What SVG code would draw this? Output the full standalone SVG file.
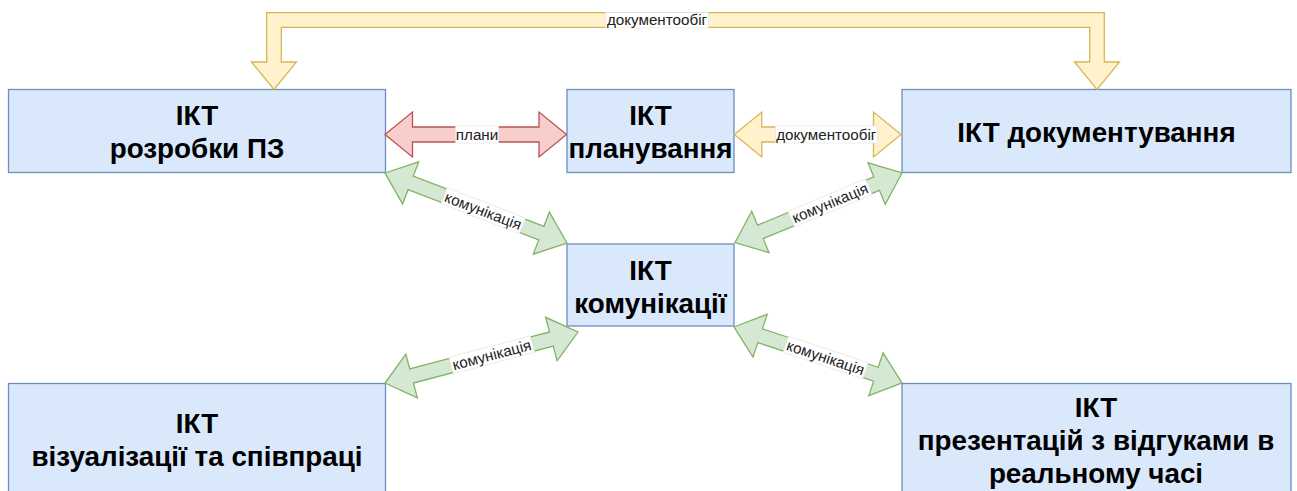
<svg xmlns="http://www.w3.org/2000/svg" width="1297" height="491" viewBox="0 0 1297 491">
<style>
.node{fill:#dae8fc;stroke:#6c8ebf;stroke-width:1.3}
.nt{font-family:"Liberation Sans",Arial,sans-serif;font-weight:bold;font-size:27.8px;fill:#000;text-anchor:middle}
.yel{fill:#fff2cc;stroke:#d6b656;stroke-width:1.3;stroke-linejoin:miter}
.red{fill:#f8cecc;stroke:#b85450;stroke-width:1.3}
.grn{fill:#d5e8d4;stroke:#82b366;stroke-width:1.3}
.lb{fill:#fff;stroke:#e2e2e2;stroke-width:0.6}
.lt{font-family:"Liberation Sans",Arial,sans-serif;font-size:15.2px;fill:#222;text-anchor:middle}
</style>
<rect width="1297" height="491" fill="#fff"/>
<g id="node-rozrobky"><rect class="node" x="8.5" y="89.5" width="377" height="83"/><text class="nt" x="197" y="125">ІКТ</text><text class="nt" x="197" y="158">розробки ПЗ</text></g>
<g id="node-planuvannia"><rect class="node" x="567" y="89.5" width="167" height="83"/><text class="nt" x="650.5" y="125">ІКТ</text><text class="nt" x="650.5" y="158">планування</text></g>
<g id="node-dokumentuvannia"><rect class="node" x="902" y="89.5" width="389" height="83"/><text class="nt" x="1096.5" y="141.5">ІКТ документування</text></g>
<g id="node-komunikatsii"><rect class="node" x="567" y="244" width="167" height="82"/><text class="nt" x="650.5" y="280">ІКТ</text><text class="nt" x="650.5" y="312.5">комунікації</text></g>
<g id="node-vizualizatsii"><rect class="node" x="8.5" y="383.5" width="377" height="120"/><text class="nt" x="197" y="433">ІКТ</text><text class="nt" x="197" y="466">візуалізації та співпраці</text></g>
<g id="node-prezentatsii"><rect class="node" x="902" y="383.5" width="389" height="120"/><text class="nt" x="1096" y="417">ІКТ</text><text class="nt" x="1096" y="450">презентацій з відгуками в</text><text class="nt" x="1096" y="483">реальному часі</text></g>
<g id="connectors">
<g id="e-top"><polygon class="yel" points="274,89.5 251.5,62 266.7,62 266.7,12.7 1104.3,12.7 1104.3,62 1119.5,62 1097,89.5 1074.5,62 1089.7,62 1089.7,27.3 281.3,27.3 281.3,62 296.5,62"/><rect class="lb" x="605.5" y="12.5" width="103" height="15.5"/><text class="lt" x="657" y="25.3">документообіг</text></g>
<g id="e-plany" transform="translate(385,134.5)"><polygon class="red" points="0,0 27.5,-22.5 27.5,-7.5 154,-7.5 154,-22.5 181.5,0 154,22.5 154,7.5 27.5,7.5 27.5,22.5"/><rect class="lb" x="70.5" y="-8.5" width="43" height="17"/><text class="lt" x="92" y="5.3">плани</text></g>
<g id="e-dok" transform="translate(734.3,134.5)"><polygon class="yel" points="0,0 27.5,-22.5 27.5,-7.5 139.2,-7.5 139.2,-22.5 166.7,0 139.2,22.5 139.2,7.5 27.5,7.5 27.5,22.5"/><rect class="lb" x="41" y="-8.5" width="102" height="17"/><text class="lt" x="92" y="5.3">документообіг</text></g>
<g id="e-k1" transform="translate(385,173) rotate(21.04)"><polygon class="grn" points="0,0 27.5,-22.5 27.5,-7.3 167.5,-7.3 167.5,-22.5 195,0 167.5,22.5 167.5,7.3 27.5,7.3 27.5,22.5"/><rect class="lb" x="63.3" y="-8.5" width="84" height="17"/><text class="lt" x="105.3" y="5.3">комунікація</text></g>
<g id="e-k2" transform="translate(735,242.5) rotate(-22.6)"><polygon class="grn" points="0,0 27.5,-22.5 27.5,-7.3 153.4,-7.3 153.4,-22.5 180.9,0 153.4,22.5 153.4,7.3 27.5,7.3 27.5,22.5"/><rect class="lb" x="60.9" y="-8.5" width="84" height="17"/><text class="lt" x="102.9" y="5.3">комунікація</text></g>
<g id="e-k3" transform="translate(385,383) rotate(-14.8)"><polygon class="grn" points="0,0 27.5,-22.5 27.5,-7.3 172.1,-7.3 172.1,-22.5 199.6,0 172.1,22.5 172.1,7.3 27.5,7.3 27.5,22.5"/><rect class="lb" x="68.4" y="-8.5" width="84" height="17"/><text class="lt" x="110.4" y="5.3">комунікація</text></g>
<g id="e-k4" transform="translate(734,327) rotate(18.4)"><polygon class="grn" points="0,0 27.5,-22.5 27.5,-7.3 149.6,-7.3 149.6,-22.5 177.1,0 149.6,22.5 149.6,7.3 27.5,7.3 27.5,22.5"/><rect class="lb" x="54.6" y="-8.5" width="84" height="17"/><text class="lt" x="96.6" y="5.3">комунікація</text></g>
</g>
</svg>
